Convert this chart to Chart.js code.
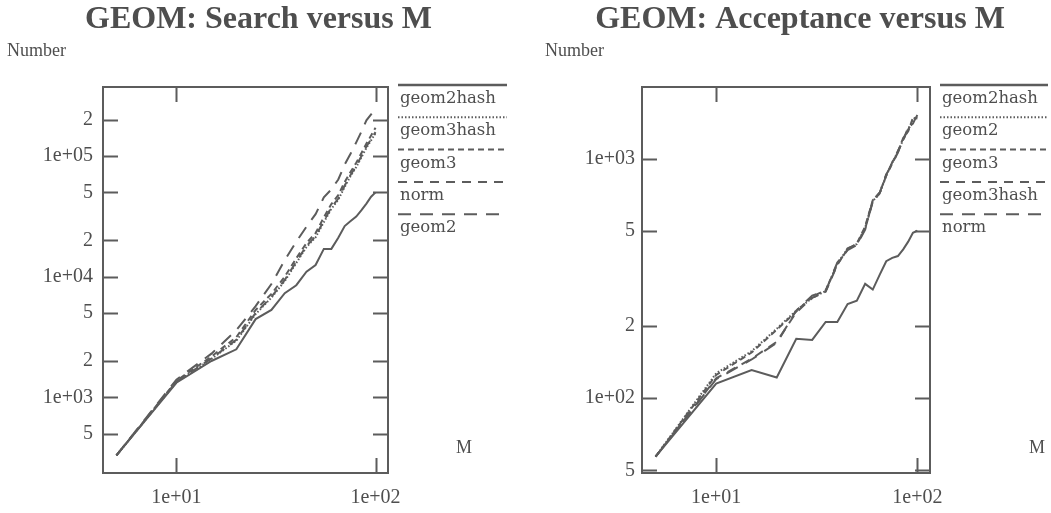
<!DOCTYPE html>
<html><head><meta charset="utf-8">
<script src="https://cdn.jsdelivr.net/npm/chart.js@4"></script>
<style>
html,body{margin:0;padding:0;background:#fff;width:1051px;height:513px;overflow:hidden}
canvas{position:absolute;top:0}
#c1{left:0}
#c2{left:525px}
</style></head><body>
<canvas id="c1" width="525" height="513"></canvas>
<canvas id="c2" width="526" height="513"></canvas>
<script>
// ---------- data ----------
const M = [5,10,15,20,25,30,35,40,45,50,55,60,65,70,75,80,85,90,95,100];

// Search versus M
const searchNames = ['geom2hash','geom3hash','geom3','norm','geom2'];
const s_geom2hash = [330,1320,2000,2500,4450,5300,7300,8500,11000,12500,17000,17000,21000,26300,28900,31500,35600,40400,46000,50000];
const s_geom3hash = [330,1340,2080,2950,4900,6700,9200,13000,17600,21200,28300,36500,43500,55500,68500,81000,98000,117000,135000,155000];
const s_geom3     = [330,1370,2180,3150,5300,7200,10000,14200,19000,23000,31000,40000,47500,61000,74000,88000,106000,127000,148000,172000];
const s_norm      = [330,1350,2100,3000,5000,6800,9400,13300,18000,21700,29000,37500,44500,57000,70000,83000,100000,120000,138000,158000];
const s_geom2     = [330,1400,2300,3600,5700,8700,13700,19500,26000,33000,45500,53000,64000,85000,105000,130000,160000,198000,222000,250000];

// Acceptance versus M
const accNames = ['geom2hash','geom2','geom3','geom3hash','norm'];
const a_geom2hash = [57,115,131,122,177,175,208,208,247,255,300,284,328,373,385,392,418,450,490,500];
const a_geom2     = [57,127,157,195,232,262,280,365,420,440,515,665,715,850,960,1070,1200,1330,1430,1520];
const a_geom3     = [57,125,155,193,230,266,282,362,418,442,520,670,720,855,955,1065,1220,1300,1480,1470];
const a_geom3hash = [57,121,146,172,228,262,278,360,422,438,510,660,718,848,965,1075,1190,1350,1400,1530];
const a_norm      = [57,120,145,170,232,268,280,368,415,436,505,668,722,858,950,1060,1210,1320,1460,1500];

// ticks
const xTicks = [10,100];
const xTickLabels = ['1e+01','1e+02'];
const searchYTicks = [500,1000,2000,5000,10000,20000,50000,100000,200000];
const searchYLabels = ['5','1e+03','2','5','1e+04','2','5','1e+05','2'];
const accYTicks = [50,100,200,500,1000];
const accYLabels = ['5','1e+02','2','5','1e+03'];

// ---------- styles ----------
const LINE = '#5c5c5c';
const TEXT = '#4e4e4e';
const dashes = [[], [1.5,2], [6,4], [9,7], [13,9]];

const framePlugin = {
  id: 'frame',
  afterDraw(chart, args, o) {
    const ctx = chart.ctx, a = chart.chartArea;
    ctx.save();
    ctx.strokeStyle = LINE;
    ctx.lineWidth = 2;
    ctx.setLineDash([]);
    ctx.strokeRect(a.left, a.top, a.right - a.left, a.bottom - a.top);
    const TL = 15;
    const ys = chart.scales.y, xs = chart.scales.x;
    ys.ticks.forEach(t => {
      const p = Math.round(ys.getPixelForValue(t.value)) + 0.5;
      ctx.beginPath();
      ctx.moveTo(a.left, p); ctx.lineTo(a.left + TL, p);
      ctx.moveTo(a.right - TL, p); ctx.lineTo(a.right, p);
      ctx.stroke();
    });
    xs.ticks.forEach(t => {
      const p = Math.round(xs.getPixelForValue(t.value)) + 0.5;
      ctx.beginPath();
      ctx.moveTo(p, a.bottom); ctx.lineTo(p, a.bottom - TL);
      ctx.moveTo(p, a.top); ctx.lineTo(p, a.top + TL);
      ctx.stroke();
    });
    // title
    ctx.fillStyle = TEXT;
    ctx.font = 'bold 32px "Liberation Serif"';
    ctx.textAlign = 'center';
    ctx.textBaseline = 'alphabetic';
    ctx.fillText(o.title, o.titleX, 28);
    // axis names
    ctx.font = '18px "Liberation Serif"';
    ctx.textAlign = 'left';
    ctx.fillText('Number', o.numberX, 56);
    ctx.textAlign = 'center';
    ctx.fillText('M', o.mX, 453);
    // legend
    const step = 32.3;
    chart.data.datasets.forEach((ds, i) => {
      const ly = 85 + i * step;
      ctx.strokeStyle = LINE;
      ctx.lineWidth = i === 0 ? 2.5 : 2;
      ctx.setLineDash(ds.borderDash || []);
      ctx.beginPath();
      ctx.moveTo(o.legX0, ly); ctx.lineTo(o.legX1, ly);
      ctx.stroke();
      ctx.setLineDash([]);
      ctx.fillStyle = TEXT;
      ctx.font = '16.5px "DejaVu Serif"';
      ctx.textAlign = 'left';
      ctx.fillText(ds.label, o.legX0 + 2, ly + 18);
    });
    ctx.restore();
  }
};

function makeDatasets(names, series) {
  return names.map((n, i) => ({
    label: n,
    data: M.map((m, k) => ({x: m, y: series[i][k]})),
    borderColor: LINE,
    borderWidth: 2,
    borderDash: dashes[i],
    pointRadius: 0,
    fill: false,
    tension: 0
  }));
}

function makeChart(id, names, series, yTicks, yLabels, yMin, yMax, yWidth, padRight, frameOpts, yPad) {
  return new Chart(document.getElementById(id), {
    type: 'line',
    data: { datasets: makeDatasets(names, series) },
    options: {
      responsive: false,
      animation: false,
      layout: { padding: { left: 0, right: padRight, top: 87, bottom: 0 } },
      plugins: { legend: { display: false }, tooltip: { enabled: false }, title: { display: false }, frame: frameOpts },
      scales: {
        x: {
          type: 'logarithmic', min: 4.28, max: 115.5,
          afterFit: s => { s.height = 40; },
          afterBuildTicks: s => { s.ticks = xTicks.map(v => ({value: v})); },
          ticks: { callback: (v, i) => xTickLabels[i], padding: 13, maxRotation: 0, autoSkip: false,
                   color: TEXT, font: { family: 'Liberation Serif', size: 20 } },
          grid: { display: false, drawTicks: false },
          border: { display: false }
        },
        y: {
          type: 'logarithmic', min: yMin, max: yMax,
          afterFit: s => { s.width = yWidth; },
          afterBuildTicks: s => { s.ticks = yTicks.map(v => ({value: v})); },
          ticks: { callback: (v, i) => yLabels[i], padding: yPad, autoSkip: false,
                   color: TEXT, font: { family: 'Liberation Serif', size: 20 } },
          grid: { display: false, drawTicks: false },
          border: { display: false }
        }
      }
    },
    plugins: [framePlugin]
  });
}

makeChart('c1', searchNames, [s_geom2hash, s_geom3hash, s_geom3, s_norm, s_geom2],
  searchYTicks, searchYLabels, 235.6, 374000, 103, 137,
  { title: 'GEOM: Search versus M', titleX: 258.5, numberX: 7, mX: 464, legX0: 398, legX1: 507 }, 10);

makeChart('c2', accNames, [a_geom2hash, a_geom2, a_geom3, a_geom3hash, a_norm],
  accYTicks, accYLabels, 48.7, 1990, 117, 121,
  { title: 'GEOM: Acceptance versus M', titleX: 275, numberX: 20, mX: 512, legX0: 415, legX1: 523 }, 7);
</script>
</body></html>
